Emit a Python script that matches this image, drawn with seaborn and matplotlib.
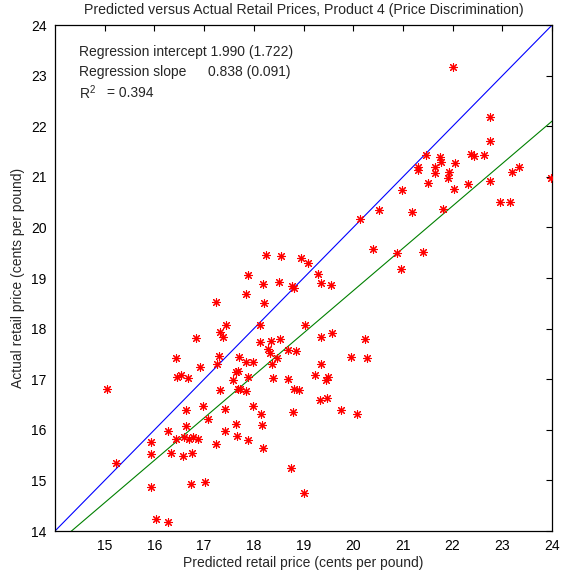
import matplotlib
matplotlib.use('Agg')
import matplotlib.pyplot as plt
import seaborn as sns
import pandas as pd

sns.set_style("white")
plt.rcParams['font.family'] = ['Liberation Sans', 'DejaVu Sans']
plt.rcParams['mathtext.default'] = 'regular'

# Data
predicted = [18.24, 18.55, 18.95, 17.88, 22.01, 22.76, 22.76, 21.46, 21.75, 21.77,
             22.36, 22.44, 22.63, 22.05, 21.31, 21.31, 21.65, 21.65, 21.92, 21.91,
             21.50, 22.03, 22.30, 22.76, 23.20, 23.34, 23.97, 20.98, 22.96, 23.16,
             20.52, 21.18, 21.80, 20.14, 20.40, 20.88, 21.40, 20.96, 19.09, 19.30,
             18.19, 18.51, 18.77, 18.80, 17.84, 17.24, 18.20, 17.44, 18.12, 19.04,
             17.33, 17.39, 16.84, 18.13, 18.35, 18.53, 18.28, 18.33, 18.68, 18.84,
             18.47, 18.37, 16.43, 17.29, 17.25, 17.70, 17.84, 17.98, 16.91, 16.45,
             16.54, 16.67, 17.68, 17.64, 17.59, 17.89, 18.39, 18.69, 15.04, 17.31,
             17.68, 17.73, 17.84, 18.80, 18.90, 16.63, 16.98, 17.43, 17.98, 18.14,
             18.79, 17.08, 16.63, 17.64, 18.17, 16.28, 16.43, 16.59, 16.70, 16.78,
             16.87, 17.42, 17.66, 17.88, 15.94, 17.24, 18.19, 15.94, 16.33, 16.58,
             16.75, 15.22, 18.75, 15.94, 16.74, 17.02, 19.00, 16.03, 16.28,
             19.35, 19.55, 19.35, 19.58, 20.24, 19.95, 20.28, 19.35, 19.23, 19.45,
             19.49, 19.33, 19.48, 19.75, 20.08]
actual = [19.46, 19.44, 19.39, 19.07, 23.18, 22.19, 21.70, 21.43, 21.40, 21.29,
          21.46, 21.41, 21.44, 21.27, 21.19, 21.13, 21.20, 21.08, 21.09, 20.98,
          20.88, 20.77, 20.86, 20.92, 21.09, 21.19, 20.98, 20.75, 20.51, 20.50,
          20.35, 20.30, 20.36, 20.17, 19.57, 19.50, 19.51, 19.17, 19.29, 19.09,
          18.88, 18.92, 18.84, 18.81, 18.68, 18.52, 18.50, 18.08, 18.08, 18.08,
          17.94, 17.84, 17.82, 17.74, 17.75, 17.80, 17.60, 17.52, 17.58, 17.56,
          17.43, 17.31, 17.43, 17.45, 17.31, 17.44, 17.35, 17.35, 17.24, 17.04,
          17.08, 17.03, 17.16, 17.15, 16.98, 17.05, 17.03, 17.00, 16.80, 16.79,
          16.81, 16.81, 16.76, 16.80, 16.79, 16.40, 16.47, 16.41, 16.48, 16.31,
          16.35, 16.21, 16.08, 16.12, 16.09, 15.98, 15.82, 15.86, 15.82, 15.86,
          15.82, 15.98, 15.87, 15.80, 15.75, 15.73, 15.65, 15.53, 15.54, 15.48,
          15.55, 15.34, 15.25, 14.88, 14.93, 14.97, 14.76, 14.24, 14.18,
          18.91, 18.87, 17.84, 17.92, 17.80, 17.44, 17.43, 17.31, 17.08, 16.98,
          17.04, 16.59, 16.62, 16.39, 16.31]

intercept = 1.990
slope = 0.838
axis_range = [14, 24]

df = pd.DataFrame({'Predicted': predicted, 'Actual': actual})

fig = plt.figure(figsize=(5.61, 5.71), dpi=100)
ax = fig.add_axes([0.098, 0.070, 0.886, 0.886])

# 45 degree line and regression line
ax.plot(axis_range, axis_range, color='#0000ff', linewidth=0.8)
ax.plot(axis_range, [intercept + slope * v for v in axis_range], color='#008000', linewidth=0.8)

sns.scatterplot(data=df, x='Predicted', y='Actual', marker=(8, 2, 0), color='red',
                edgecolor='red', s=32, linewidth=0.8, ax=ax, zorder=3)

ax.set_xlim(axis_range)
ax.set_ylim(axis_range)
ax.set_xticks(range(15, 25))
ax.set_yticks(range(14, 25))
ax.tick_params(direction='in', length=4, width=0.8, top=True, right=True,
               labelsize=10, colors='black', pad=6)
for sp in ax.spines.values():
    sp.set_color('black')
    sp.set_linewidth(0.9)

ax.set_title('Predicted versus Actual Retail Prices, Product 4 (Price Discrimination)',
             fontsize=10.2, pad=8)
ax.set_xlabel('Predicted retail price (cents per pound)', fontsize=10, labelpad=2)
ax.set_ylabel('Actual retail price (cents per pound)', fontsize=10, labelpad=4)

ax.text(14.48, 23.47, 'Regression intercept 1.990 (1.722)', fontsize=10, va='center')
ax.text(14.48, 23.08, 'Regression slope', fontsize=10, va='center')
ax.text(17.08, 23.08, '0.838 (0.091)', fontsize=10, va='center')
ax.text(14.48, 22.66, 'R$^2$', fontsize=10, va='center')
ax.text(15.04, 22.66, '= 0.394', fontsize=10, va='center')

fig.savefig('out.png', dpi=100)
